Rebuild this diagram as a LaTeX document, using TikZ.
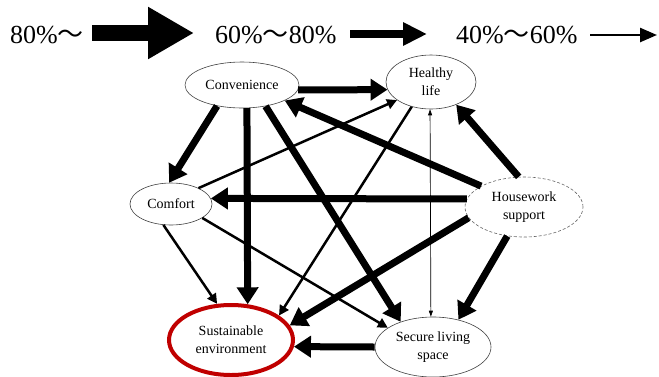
\documentclass[tikz,border=0pt]{standalone}
\usepackage{fontspec}
\setmainfont{Liberation Serif}
\newfontfamily\cjk{Noto Sans CJK JP}
\usetikzlibrary{arrows.meta,shapes.geometric}
\definecolor{ringred}{RGB}{192,0,0}

\begin{document}
\begin{tikzpicture}[x=1pt,y=-1pt]
    \tikzset{goal/.style={ellipse, draw=black!75, line width=0.6pt, inner sep=0pt, align=center, font=\fontsize{14}{18}\selectfont}}
    \tikzset{legend/.style={font=\fontsize{26}{30}\selectfont, inner sep=0pt, anchor=base west}}
    \tikzset{strong/.style={line width=7pt, -{Triangle[length=17pt,width=21pt]}}}
    \tikzset{medium/.style={line width=2.5pt, -{Triangle[length=10pt,width=10pt]}}}
    \tikzset{weak/.style={line width=0.7pt, {Triangle[length=6pt,width=4pt]}-{Triangle[length=6pt,width=4pt]}}}
    \useasboundingbox (0,0) rectangle (659,376);

    \node[legend] (k80) at (10,43) {80\%{\cjk ～}};
    \node[legend] (k60) at (215,43) {60\%{\cjk ～}80\%};
    \node[legend] (k40) at (456,43) {40\%{\cjk ～}60\%};
    \coordinate (a80) at (92,33);
    \coordinate (b80) at (194,33);
    \coordinate (a60) at (350,34);
    \coordinate (b60) at (427,34);
    \coordinate (a40) at (590,35);
    \coordinate (b40) at (657,35);
    \draw[line width=16pt, -{Triangle[length=46pt,width=49pt]}] (a80) -- (b80);
    \draw[line width=8pt, -{Triangle[length=24pt,width=22pt]}] (a60) -- (b60);
    \draw[line width=2.5pt, -{Triangle[length=17pt,width=14pt]}] (a40) -- (b40);

    \node[goal, minimum width=114pt, minimum height=46pt] (conv) at (242,85) {Convenience};
    \node[goal, minimum width=90pt, minimum height=54pt] (heal) at (431,82) {Healthy\\life};
    \node[goal, minimum width=82pt, minimum height=42pt] (comf) at (171,204) {Comfort};
    \node[goal, draw=black!60, dash pattern=on 3pt off 2pt, minimum width=118pt, minimum height=60pt] (hous) at (524,207) {Housework\\support};
    \node[goal, draw=ringred, line width=4pt, minimum width=124pt, minimum height=70pt] (sust) at (231,340) {Sustainable\\environment};
    \node[goal, minimum width=116pt, minimum height=60pt] (secu) at (433,347) {Secure living\\space};

    \draw[strong] (conv.-5) -- (heal.190);
    \draw[strong] (conv.220) -- (comf.95);
    \draw[strong] (conv.-78) -- (sust.65);
    \draw[strong] (conv.-42) -- (secu.142);
    \draw[medium] (comf.30) -- (heal.208);
    \draw[medium] (heal.232) -- (sust.27);
    \draw[weak] (heal.268) -- (secu.94);
    \draw[strong] (hous.100) -- (heal.-42);
    \draw[strong] (hous.154) -- (conv.-20);
    \draw[strong] (hous.172) -- (comf.8);
    \draw[strong] (hous.191) -- (sust.14);
    \draw[strong] (hous.240) -- (secu.47);
    \draw[medium] (comf.250) -- (sust.111);
    \draw[medium] (comf.-24) -- (secu.157);
    \draw[strong] (secu.180) -- (sust.-6);
\end{tikzpicture}
\end{document}
